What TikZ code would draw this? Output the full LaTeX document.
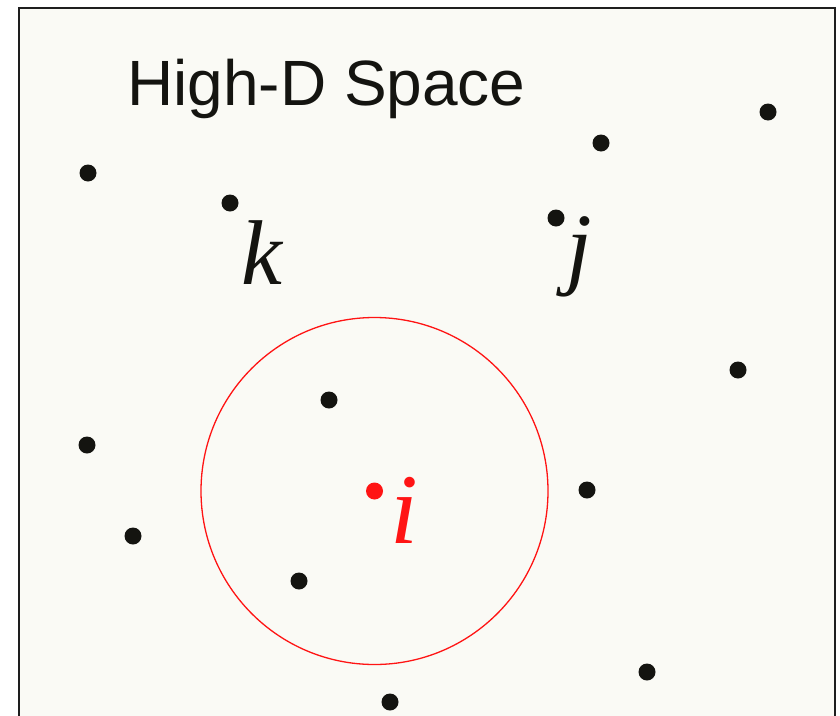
\documentclass[tikz,border=0pt]{standalone}
\usepackage{fontspec}
\setmainfont{Liberation Serif}
\newfontfamily\titlefont{Liberation Sans}
\usepackage{tikz}
\usetikzlibrary{positioning}
\definecolor{cPanel}{HTML}{FAFAF5}
\definecolor{cFrame}{HTML}{1E1E1E}
\definecolor{cDot}{HTML}{141410}
\definecolor{cRed}{HTML}{FF1414}

\begin{document}
\begin{tikzpicture}[
  x=1pt, y=-1pt,
  pt/.style={circle, fill=#1, inner sep=0pt, minimum size=17pt},
  pt/.default=cDot,
  lab/.style={font=\fontsize{92}{92}\selectfont\itshape, text=#1, inner sep=0pt, anchor=base},
  lab/.default=cDot,
  nbhd/.style={circle, draw=cRed, line width=1.3pt, minimum size=347pt, inner sep=0pt},
]
\useasboundingbox (0,0) rectangle (840,715);
\clip (0,0) rectangle (840,715);

% ── panel ─────────────────────────────────────────────────────────────────
\draw[cFrame, fill=cPanel, line width=2pt] (19,8) rectangle (835,740);
\node[font=\fontsize{64}{64}\selectfont\titlefont, text=cDot, anchor=base west, inner sep=0pt] (title) at (127,105) {High-D Space};

% ── points ────────────────────────────────────────────────────────────────
\node[pt] (p1)  at (88,173)  {};
\node[pt] (pk)  at (230,203) {};
\node[pt] (p2)  at (601,143) {};
\node[pt] (p3)  at (768,112) {};
\node[pt] (pj)  at (556,218) {};
\node[pt] (p4)  at (738,370) {};
\node[pt] (p5)  at (329,400) {};
\node[pt] (p6)  at (87,445)  {};
\node[pt] (p7)  at (587,490) {};
\node[pt] (p8)  at (133,536) {};
\node[pt] (p9)  at (299,581) {};
\node[pt] (p10) at (647,672) {};
\node[pt] (p11) at (390,702) {};
\node[pt=cRed] (pi) at (374.5,491) {};

% ── neighbourhood of i ────────────────────────────────────────────────────
\node[nbhd] (ball) at (pi) {};

% ── labels ────────────────────────────────────────────────────────────────
\node[lab] (lk) at (262,284) {k};
\node[lab] (lj) at (579,277) {j};
\node[lab=cRed, font=\fontsize{100}{100}\selectfont\itshape] (li) at (404,543) {i};
\end{tikzpicture}
\end{document}
